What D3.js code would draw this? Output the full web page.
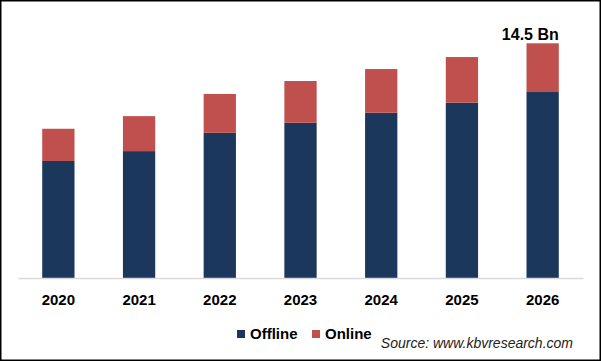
<!DOCTYPE html>
<html>
<head>
<meta charset="utf-8">
<script src="https://cdn.jsdelivr.net/npm/d3@7"></script>
<style>
  body { margin: 0; background: #fff; }
  svg { display: block; font-family: "Liberation Sans", Arial, sans-serif; }
</style>
</head>
<body>
<svg width="601" height="361"></svg>
<script>
const years = ["2020", "2021", "2022", "2023", "2024", "2025", "2026"];
const offline = [7.23, 7.84, 8.97, 9.59, 10.21, 10.83, 11.49];
const online = [1.99, 2.16, 2.40, 2.58, 2.70, 2.82, 3.01];
const seriesNames = ["Offline", "Online"];
const colors = ["#1b375c", "#c0504d"];
const topLabel = "14.5 Bn";

const svg = d3.select("svg");
const W = 601, H = 361;

// outer frame
svg.append("rect")
  .attr("x", 0.75).attr("y", 0.75)
  .attr("width", W - 1.5).attr("height", H - 1.5)
  .attr("fill", "none").attr("stroke", "#000").attr("stroke-width", 1.5);

const rows = years.map((y, i) => ({ year: y, Offline: offline[i], Online: online[i] }));
const stacked = d3.stack().keys(seriesNames)(rows);

const x = d3.scaleBand().domain(years).range([18, 583]).paddingInner(0.6).paddingOuter(0.3);
const y = d3.scaleLinear().domain([0, 14.5]).range([278, 43.3]);

svg.selectAll("g.series")
  .data(stacked)
  .enter()
  .append("g")
  .attr("class", "series")
  .attr("fill", (d, i) => colors[i])
  .selectAll("rect")
  .data(d => d)
  .enter()
  .append("rect")
  .attr("x", d => x(d.data.year))
  .attr("y", d => y(d[1]))
  .attr("width", x.bandwidth())
  .attr("height", d => y(d[0]) - y(d[1]));

// x axis
const xAxis = svg.append("g")
  .attr("transform", "translate(0,278)")
  .call(d3.axisBottom(x).tickSize(0).tickPadding(16));
xAxis.select(".domain").attr("stroke", "#d9d9d9").attr("stroke-width", 1.5);
xAxis.selectAll("text")
  .attr("font-family", "Liberation Sans, Arial, sans-serif")
  .attr("font-size", 15)
  .attr("font-weight", "bold")
  .attr("fill", "#000");

// total label on last bar
const last = rows[rows.length - 1];
svg.append("text")
  .attr("x", x(last.year) + x.bandwidth())
  .attr("y", y(last.Offline + last.Online) - 3)
  .attr("text-anchor", "end")
  .attr("font-size", 16)
  .attr("font-weight", "bold")
  .attr("fill", "#000")
  .text(topLabel);

// legend
const legendX = [237, 312];
const legend = svg.append("g");
seriesNames.forEach((name, i) => {
  legend.append("rect")
    .attr("x", legendX[i]).attr("y", 330)
    .attr("width", 8).attr("height", 8)
    .attr("fill", colors[i]);
  legend.append("text")
    .attr("x", legendX[i] + 13).attr("y", 339)
    .attr("font-size", 15)
    .attr("font-weight", "bold")
    .attr("fill", "#000")
    .text(name);
});

svg.append("text")
  .attr("x", 573).attr("y", 348)
  .attr("text-anchor", "end")
  .attr("font-size", 14)
  .attr("font-style", "italic")
  .attr("fill", "#222")
  .text("Source: www.kbvresearch.com");
</script>
</body>
</html>
